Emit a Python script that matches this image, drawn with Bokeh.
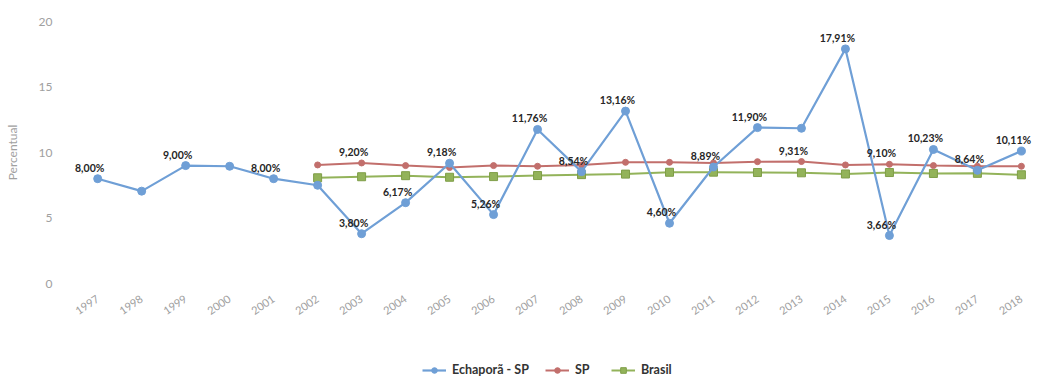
from bokeh.plotting import figure
from bokeh.layouts import column
from bokeh.models import (ColumnDataSource, FixedTicker, Legend, LegendItem,
                          Range1d)
from bokeh.core.properties import value
from bokeh.embed import file_html
from bokeh.resources import INLINE

# --- data ---------------------------------------------------------------
years = list(range(1997, 2019))
echapora = [8.00, 7.05, 9.00, 8.95, 8.00, 7.50, 3.80, 6.17, 9.18, 5.26, 11.76,
            8.54, 13.16, 4.60, 8.89, 11.90, 11.85, 17.91, 3.66, 10.23, 8.64, 10.11]
# years whose value is printed next to the Echaporã point
echapora_labeled = [1997, 1999, 2001, 2003, 2004, 2005, 2006, 2007, 2008, 2009,
                    2010, 2011, 2012, 2014, 2015, 2016, 2017, 2018]

sp_years = list(range(2002, 2019))
sp = [9.05, 9.20, 9.00, 8.85, 9.00, 8.95, 9.05, 9.25, 9.25, 9.20, 9.30, 9.31,
      9.05, 9.10, 9.00, 8.95, 8.95]
sp_labeled = [2003, 2013, 2015]

brasil_years = list(range(2002, 2019))
brasil = [8.07, 8.15, 8.23, 8.11, 8.16, 8.24, 8.31, 8.35, 8.49, 8.50, 8.47,
          8.45, 8.36, 8.47, 8.40, 8.41, 8.30]

y_ticks = [0, 5, 10, 15, 20]
series_names = ["Echaporã - SP", "SP", "Brasil"]

BLUE = "#6f9fd6"
RED = "#c26f6c"
GREEN = "#93b35a"
FONT = "Lato"

STYLE = {
    "Echaporã - SP": dict(color=BLUE, marker="circle", size=8, lw=2.2, edge=BLUE),
    "SP": dict(color=RED, marker="circle", size=6, lw=2, edge=RED),
    "Brasil": dict(color=GREEN, marker="square", size=8, lw=2, edge="#7f9e48"),
}


def pct(v):
    return f"{v:.2f}".replace(".", ",") + "%"


def draw_series(fig, name, src):
    st = STYLE[name]
    ln = fig.line("x", "y", source=src, color=st["color"], line_width=st["lw"])
    pts = fig.scatter("x", "y", source=src, marker=st["marker"], size=st["size"],
                      fill_color=st["color"], line_color=st["edge"])
    return ln, pts


sources = {
    "Echaporã - SP": ColumnDataSource(dict(x=years, y=echapora)),
    "SP": ColumnDataSource(dict(x=sp_years, y=sp)),
    "Brasil": ColumnDataSource(dict(x=brasil_years, y=brasil)),
}

# --- main chart ---------------------------------------------------------
p = figure(width=1042, height=345, output_backend="svg", toolbar_location=None,
           x_range=Range1d(1996.2, 2018.48), y_range=Range1d(0, 20),
           min_border_left=62, min_border_right=0, min_border_top=21,
           min_border_bottom=62)
p.outline_line_color = None
p.grid.visible = False

for ax in (p.xaxis[0], p.yaxis[0]):
    ax.axis_line_color = None
    ax.major_tick_line_color = None
    ax.minor_tick_line_color = None
    ax.major_label_text_color = "#a0a0a0"
    ax.major_label_text_font = FONT

p.xaxis.ticker = FixedTicker(ticks=years)
p.xaxis.major_label_overrides = {y: str(y) for y in years}
p.xaxis.major_label_orientation = 0.6
p.xaxis.major_label_standoff = 8
p.xaxis.major_label_text_font_size = "11px"

p.yaxis.ticker = FixedTicker(ticks=y_ticks)
p.yaxis.major_label_standoff = 4
p.yaxis.major_label_text_font_size = "12px"
p.yaxis.axis_label = "Percentual"
p.yaxis.axis_label_text_font = FONT
p.yaxis.axis_label_text_font_style = "normal"
p.yaxis.axis_label_text_font_size = "12px"
p.yaxis.axis_label_text_color = "#a0a0a0"
p.yaxis.axis_label_standoff = 16

for name in ["SP", "Brasil", "Echaporã - SP"]:
    draw_series(p, name, sources[name])

# value labels
lx, ly, lt = [], [], []
for yr, v in zip(years, echapora):
    if yr in echapora_labeled:
        lx.append(yr); ly.append(v); lt.append(pct(v))
for yr, v in zip(sp_years, sp):
    if yr in sp_labeled:
        lx.append(yr); ly.append(v); lt.append(pct(v))
lab_src = ColumnDataSource(dict(x=lx, y=ly, t=lt))
p.text("x", "y", text="t", source=lab_src, x_offset=-8, y_offset=-11,
       text_align="center", text_baseline="middle",
       text_font=value(FONT), text_font_style="bold",
       text_font_size="10.5px", text_color="#262626")

# --- legend strip -------------------------------------------------------
# The strip's ranges hold none of the data, so only the legend swatches show.
lg = figure(width=1042, height=38, output_backend="svg", toolbar_location=None,
            x_range=Range1d(0, 1), y_range=Range1d(0, 1),
            min_border_left=0, min_border_right=0, min_border_top=0,
            min_border_bottom=0)
lg.outline_line_color = None
lg.axis.visible = False
lg.grid.visible = False

items = []
for name in series_names:
    items.append(LegendItem(label=name,
                            renderers=list(draw_series(lg, name, sources[name]))))

legend = Legend(items=items, orientation="horizontal", location=(360, 6),
                border_line_color=None, background_fill_alpha=0, padding=0,
                margin=0, spacing=16, glyph_width=24, glyph_height=14,
                label_standoff=6, label_text_font=FONT,
                label_text_font_style="bold", label_text_font_size="12.5px",
                label_text_color="#333333")
lg.add_layout(legend)

layout = column(p, lg, spacing=0)
open("out.html", "w").write(file_html(layout, INLINE))
